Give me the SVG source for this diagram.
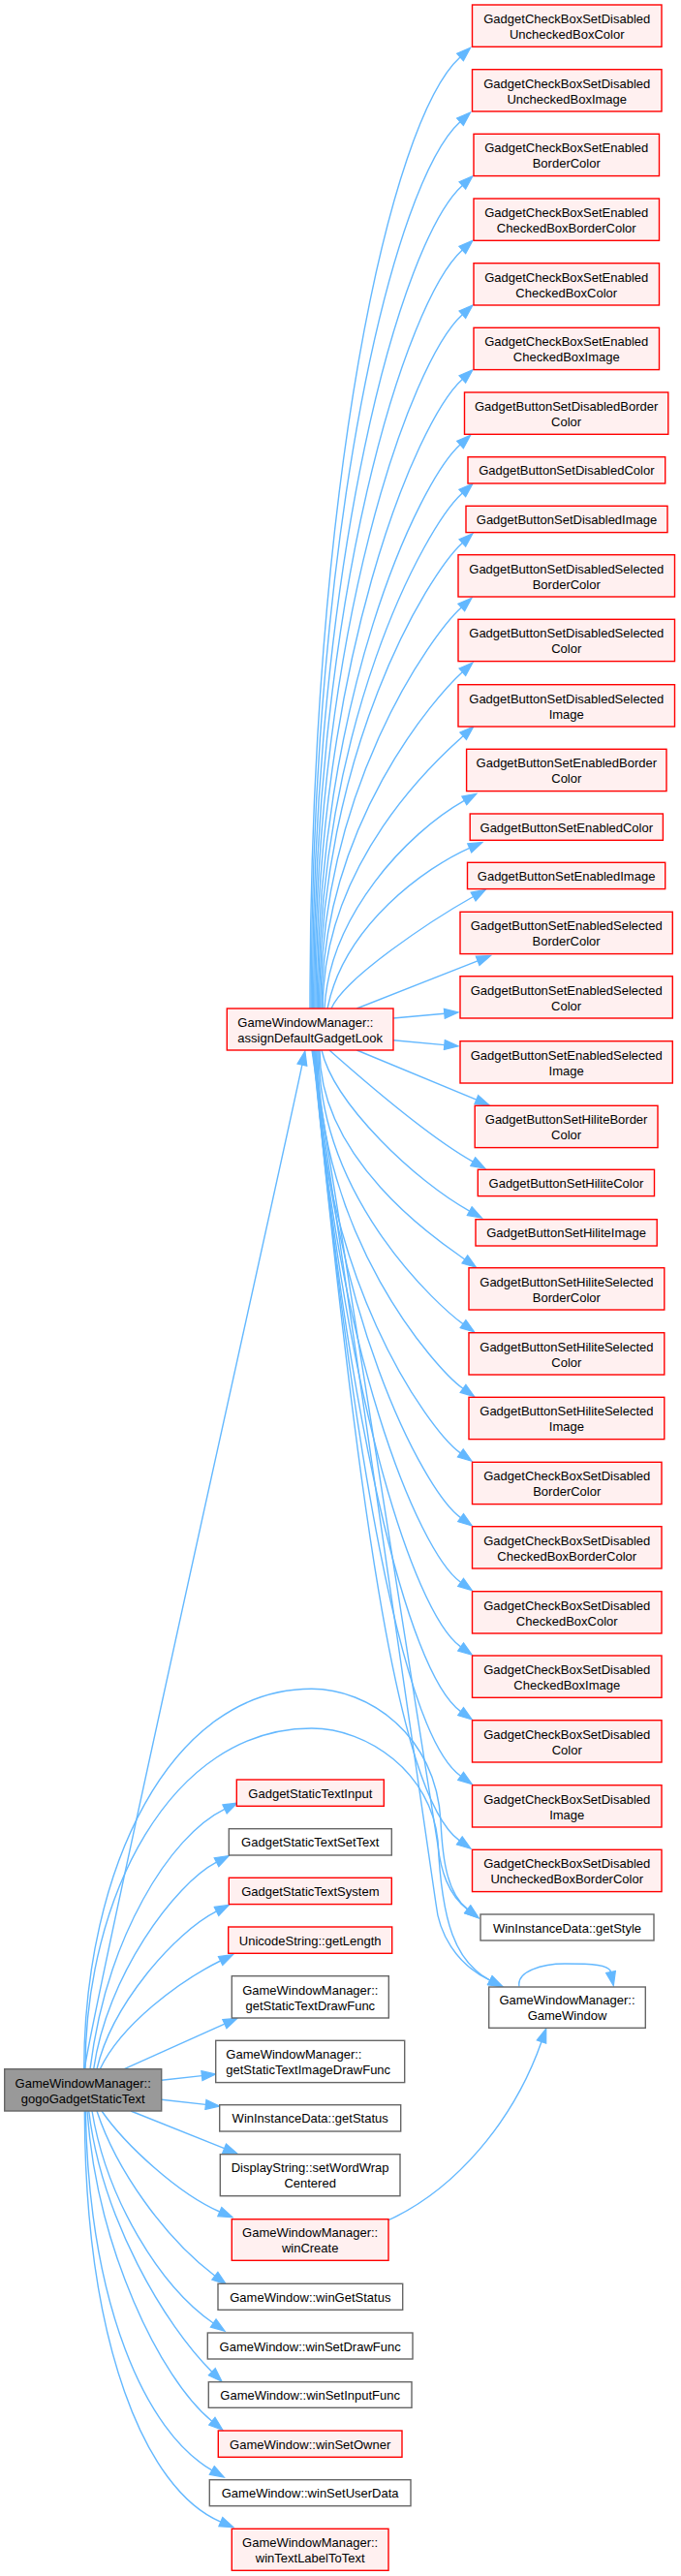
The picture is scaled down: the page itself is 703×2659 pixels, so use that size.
<svg xmlns="http://www.w3.org/2000/svg" width="703" height="2659" viewBox="0 0 703 2659">
<style>
text{font-family:"Liberation Sans",Arial,Helvetica,sans-serif;font-size:13px;fill:#000;text-anchor:middle}
text.l{text-anchor:start}
.r{fill:#fff0f0;stroke:#ff0000;stroke-width:1.4}
.w{fill:#fff;stroke:#666;stroke-width:1.4}
.g{fill:#999;stroke:#666;stroke-width:1.4}
#edges path{fill:none;stroke:#63b8ff;stroke-width:1.4;marker-end:url(#ah)}
</style>
<defs>
<marker id="ah" markerUnits="userSpaceOnUse" viewBox="-1 -6 17 12" refX="0" refY="0" markerWidth="17" markerHeight="12" orient="auto">
<path d="M0,-5 L14.4,0 L0,5 Z" fill="#63b8ff" stroke="#63b8ff" stroke-width="1.2"/>
</marker>
</defs>
<rect width="703" height="2659" fill="#fff"/>
<g id="edges">
<path d="M320,1041 C320,501 402.5,124.7 475,59"/>
<path d="M321.2,1041 C321.2,537.6 407.3,187 475,125.7"/>
<path d="M322.4,1041 C322.4,573.7 414.4,248.4 477.3,191.4"/>
<path d="M323.6,1041 C323.6,610.3 419.4,310.5 477.3,258"/>
<path d="M324.8,1041 C324.8,647 424.3,372.7 477.3,324.7"/>
<path d="M326,1041 C326,683.7 429.2,434.9 477.3,391.4"/>
<path d="M327.2,1041 C327.2,721 431.9,498 475,459"/>
<path d="M328.4,1041 C328.4,748.4 437.9,544.6 477.3,509"/>
<path d="M329.6,1041 C329.6,776.7 441.8,592.6 477.3,560.4"/>
<path d="M330.8,1041 C330.8,813.3 445.7,654.7 476.3,627"/>
<path d="M332,1041 C332,850 451.6,716.9 477.3,693.7"/>
<path d="M333.2,1041 C333.2,886.3 457.3,778.5 478.1,759.7"/>
<path d="M335,1041 C340,945 420,860 479.3,826.4"/>
<path d="M338,1041 C355,955 440,895 484.7,875.3"/>
<path d="M342,1041 C355,1010 445,950 488.6,925.5"/>
<path d="M368.3,1041 L493.1,991.8"/>
<path d="M406,1051 L458.8,1046.3"/>
<path d="M406,1073.7 L458.8,1078.6"/>
<path d="M368.3,1084 L491.8,1135.2"/>
<path d="M340,1084 C375,1115 445,1175 488.2,1199.1"/>
<path d="M332,1084 C345,1140 430,1220 484.7,1250.1"/>
<path d="M330,1084 C330,1202.7 462.3,1287.4 479.8,1299.9"/>
<path d="M329,1084 C329,1239.4 455.1,1350.2 478,1366.6"/>
<path d="M328,1084 C328,1276.1 449.7,1413.1 478,1433.3"/>
<path d="M327,1084 C327,1312.7 441.6,1475.8 475.3,1499.9"/>
<path d="M326,1084 C338.8,1349.4 436.5,1538.6 475.6,1566.6"/>
<path d="M325,1084 C344.4,1386.1 431.1,1601.5 475.6,1633.3"/>
<path d="M324.5,1084 C350.4,1422.7 425.7,1664.2 475.6,1699.9"/>
<path d="M324,1084 C356.5,1459.4 420.3,1727 475.6,1766.6"/>
<path d="M323.5,1084 C362.7,1496.1 414.9,1789.9 475.6,1833.3"/>
<path d="M323,1084 C368.4,1532.7 408.2,1852.6 474.3,1899.9"/>
<path d="M322.5,1084 L452,1905 C455,1930 462,1955 482.7,1970.9"/>
<path d="M322,1084 L450,1965 C453,1995 470,2027 505.8,2044.2"/>
<path d="M86.7,2135.7 C87,1930 175,1743.3 321.7,1743.3 C380,1743.3 450,1790 455,1880 C457,1925 463,1955 482.7,1970.9"/>
<path d="M88,2135.7 C88,1960 175,1784 321.7,1784 C380,1784 445,1830 452,1900 C456,1985 470,2025 505.8,2044.2"/>
<path d="M87.3,2135.7 C100,2050 280,1250 311.9,1099.1"/>
<path d="M93,2135.7 C110,2000 175,1895 232,1867.4"/>
<path d="M96.7,2135.7 C110,2040 180,1945 223.5,1922.2"/>
<path d="M100,2135.7 C115,2070 180,1995 223.5,1972.9"/>
<path d="M103.3,2135.7 C125,2090 185,2045 227.6,2024"/>
<path d="M128.3,2135.7 L231.9,2089.2"/>
<path d="M166.7,2147.3 L208.4,2142.6"/>
<path d="M166.7,2167.3 L212.4,2172.4"/>
<path d="M135,2179 L231.6,2217.7"/>
<path d="M105,2179 C130,2215 185,2265 226.8,2283"/>
<path d="M100,2179 C120,2240 170,2310 221.9,2349.2"/>
<path d="M95,2179 C110,2270 165,2360 220.2,2398"/>
<path d="M91.7,2179 C105,2290 170,2400 218.8,2448.2"/>
<path d="M90,2179 C100,2320 165,2455 218.8,2499.2"/>
<path d="M88.3,2179 C92,2380 150,2510 218.8,2549.9"/>
<path d="M87.3,2179 C88,2420 150,2570 227.8,2603.1"/>
<path d="M401,2291.7 C470,2260 530,2190 559,2107.5"/>
<path d="M536,2050.5 C533,2035 560,2027 583,2027 C612,2027 629,2028 630.5,2035.5"/>
</g>
<g id="n1"><rect class="r" x="487.5" y="5" width="195.5" height="43.3"/><text x="585.25" y="23.85">GadgetCheckBoxSetDisabled</text><text x="585.25" y="39.85">UncheckedBoxColor</text></g>
<g id="n2"><rect class="r" x="487.5" y="71.7" width="195.5" height="43.3"/><text x="585.25" y="90.55">GadgetCheckBoxSetDisabled</text><text x="585.25" y="106.55">UncheckedBoxImage</text></g>
<g id="n3"><rect class="r" x="489" y="138.3" width="191.5" height="43.3"/><text x="584.75" y="157.15">GadgetCheckBoxSetEnabled</text><text x="584.75" y="173.15">BorderColor</text></g>
<g id="n4"><rect class="r" x="489" y="205" width="191.5" height="43.3"/><text x="584.75" y="223.85">GadgetCheckBoxSetEnabled</text><text x="584.75" y="239.85">CheckedBoxBorderColor</text></g>
<g id="n5"><rect class="r" x="489" y="271.7" width="191.5" height="43.3"/><text x="584.75" y="290.55">GadgetCheckBoxSetEnabled</text><text x="584.75" y="306.55">CheckedBoxColor</text></g>
<g id="n6"><rect class="r" x="489" y="338.3" width="191.5" height="43.3"/><text x="584.75" y="357.15">GadgetCheckBoxSetEnabled</text><text x="584.75" y="373.15">CheckedBoxImage</text></g>
<g id="n7"><rect class="r" x="479.5" y="405" width="210.3" height="43.3"/><text x="584.65" y="423.85">GadgetButtonSetDisabledBorder</text><text x="584.65" y="439.85">Color</text></g>
<g id="n8"><rect class="r" x="483" y="471.7" width="203.7" height="27.3"/><text x="584.85" y="490.35">GadgetButtonSetDisabledColor</text></g>
<g id="n9"><rect class="r" x="481" y="522.3" width="208" height="27.3"/><text x="585" y="540.95">GadgetButtonSetDisabledImage</text></g>
<g id="n10"><rect class="r" x="473" y="572.7" width="223.5" height="43.3"/><text x="584.75" y="591.55">GadgetButtonSetDisabledSelected</text><text x="584.75" y="607.55">BorderColor</text></g>
<g id="n11"><rect class="r" x="473" y="639.3" width="223.5" height="43.3"/><text x="584.75" y="658.15">GadgetButtonSetDisabledSelected</text><text x="584.75" y="674.15">Color</text></g>
<g id="n12"><rect class="r" x="473" y="706.7" width="223.5" height="43.3"/><text x="584.75" y="725.55">GadgetButtonSetDisabledSelected</text><text x="584.75" y="741.55">Image</text></g>
<g id="n13"><rect class="r" x="481.6" y="773.3" width="206.4" height="43.3"/><text x="584.8" y="792.15">GadgetButtonSetEnabledBorder</text><text x="584.8" y="808.15">Color</text></g>
<g id="n14"><rect class="r" x="485.2" y="840" width="199.2" height="27.3"/><text x="584.8" y="858.65">GadgetButtonSetEnabledColor</text></g>
<g id="n15"><rect class="r" x="482.5" y="890.3" width="204.2" height="27.3"/><text x="584.6" y="908.95">GadgetButtonSetEnabledImage</text></g>
<g id="n16"><rect class="r" x="475" y="941.3" width="219.3" height="43.3"/><text x="584.65" y="960.15">GadgetButtonSetEnabledSelected</text><text x="584.65" y="976.15">BorderColor</text></g>
<g id="n17"><rect class="r" x="475" y="1007.7" width="219.3" height="43.3"/><text x="584.65" y="1026.55">GadgetButtonSetEnabledSelected</text><text x="584.65" y="1042.55">Color</text></g>
<g id="n18"><rect class="r" x="475" y="1074.7" width="219.3" height="43.3"/><text x="584.65" y="1093.55">GadgetButtonSetEnabledSelected</text><text x="584.65" y="1109.55">Image</text></g>
<g id="n19"><rect class="r" x="490.2" y="1141.3" width="188.8" height="43.3"/><text x="584.6" y="1160.15">GadgetButtonSetHiliteBorder</text><text x="584.6" y="1176.15">Color</text></g>
<g id="n20"><rect class="r" x="493.3" y="1207.3" width="182.2" height="27.3"/><text x="584.4" y="1225.95">GadgetButtonSetHiliteColor</text></g>
<g id="n21"><rect class="r" x="491" y="1258.7" width="187.2" height="27.3"/><text x="584.6" y="1277.35">GadgetButtonSetHiliteImage</text></g>
<g id="n22"><rect class="r" x="484" y="1308.7" width="201.8" height="43.3"/><text x="584.9" y="1327.55">GadgetButtonSetHiliteSelected</text><text x="584.9" y="1343.55">BorderColor</text></g>
<g id="n23"><rect class="r" x="484" y="1375.7" width="201.8" height="43.3"/><text x="584.9" y="1394.55">GadgetButtonSetHiliteSelected</text><text x="584.9" y="1410.55">Color</text></g>
<g id="n24"><rect class="r" x="484" y="1442.3" width="201.8" height="43.3"/><text x="584.9" y="1461.15">GadgetButtonSetHiliteSelected</text><text x="584.9" y="1477.15">Image</text></g>
<g id="n25"><rect class="r" x="487.5" y="1509.3" width="195.5" height="43.3"/><text x="585.25" y="1528.15">GadgetCheckBoxSetDisabled</text><text x="585.25" y="1544.15">BorderColor</text></g>
<g id="n26"><rect class="r" x="487.5" y="1575.7" width="195.5" height="43.3"/><text x="585.25" y="1594.55">GadgetCheckBoxSetDisabled</text><text x="585.25" y="1610.55">CheckedBoxBorderColor</text></g>
<g id="n27"><rect class="r" x="487.5" y="1642.7" width="195.5" height="43.3"/><text x="585.25" y="1661.55">GadgetCheckBoxSetDisabled</text><text x="585.25" y="1677.55">CheckedBoxColor</text></g>
<g id="n28"><rect class="r" x="487.5" y="1709" width="195.5" height="43.3"/><text x="585.25" y="1727.85">GadgetCheckBoxSetDisabled</text><text x="585.25" y="1743.85">CheckedBoxImage</text></g>
<g id="n29"><rect class="r" x="487.5" y="1775.7" width="195.5" height="43.3"/><text x="585.25" y="1794.55">GadgetCheckBoxSetDisabled</text><text x="585.25" y="1810.55">Color</text></g>
<g id="n30"><rect class="r" x="487.5" y="1842.7" width="195.5" height="43.3"/><text x="585.25" y="1861.55">GadgetCheckBoxSetDisabled</text><text x="585.25" y="1877.55">Image</text></g>
<g id="n31"><rect class="r" x="487.5" y="1909.3" width="195.5" height="43.3"/><text x="585.25" y="1928.15">GadgetCheckBoxSetDisabled</text><text x="585.25" y="1944.15">UncheckedBoxBorderColor</text></g>
<g id="n32"><rect class="w" x="496" y="1976" width="179" height="27"/><text x="585.5" y="1994.5">WinInstanceData::getStyle</text></g>
<g id="n33"><rect class="w" x="504.7" y="2051" width="161.6" height="42.3"/><text x="585.5" y="2069.35">GameWindowManager::</text><text x="585.5" y="2085.35">GameWindow</text></g>
<g id="assign"><rect class="r" x="234.3" y="1041" width="171.7" height="43"/><text class="l" x="245.3" y="1059.7">GameWindowManager::</text><text class="l" x="245.3" y="1075.7">assignDefaultGadgetLook</text></g>
<g id="input"><rect class="r" x="244.3" y="1837" width="152" height="27.3"/><text x="320.3" y="1855.65">GadgetStaticTextInput</text></g>
<g id="settext"><rect class="w" x="236.3" y="1887.7" width="168" height="27.3"/><text x="320.3" y="1906.35">GadgetStaticTextSetText</text></g>
<g id="system"><rect class="r" x="236.3" y="1938.3" width="168" height="27.3"/><text x="320.3" y="1956.95">GadgetStaticTextSystem</text></g>
<g id="getlength"><rect class="r" x="235.7" y="1989" width="169" height="27.3"/><text x="320.2" y="2007.65">UnicodeString::getLength</text></g>
<g id="drawfunc"><rect class="w" x="239.3" y="2039.7" width="162" height="43.3"/><text x="320.3" y="2058.55">GameWindowManager::</text><text x="320.3" y="2074.55">getStaticTextDrawFunc</text></g>
<g id="imgdrawfunc"><rect class="w" x="222.7" y="2106.3" width="195" height="43.3"/><text class="l" x="233.3" y="2125.15">GameWindowManager::</text><text class="l" x="233.3" y="2141.15">getStaticTextImageDrawFunc</text></g>
<g id="getstatus"><rect class="w" x="226.7" y="2172.7" width="187" height="27.3"/><text x="320.2" y="2191.35">WinInstanceData::getStatus</text></g>
<g id="wordwrap"><rect class="w" x="227.3" y="2223.7" width="185.7" height="43"/><text x="320.15" y="2242.4">DisplayString::setWordWrap</text><text x="320.15" y="2258.4">Centered</text></g>
<g id="wincreate"><rect class="r" x="239.3" y="2290.7" width="161.7" height="42.6"/><text x="320.15" y="2309.2">GameWindowManager::</text><text x="320.15" y="2325.2">winCreate</text></g>
<g id="wingetstatus"><rect class="w" x="225" y="2357.3" width="190.7" height="27"/><text x="320.35" y="2375.8">GameWindow::winGetStatus</text></g>
<g id="winsetdrawfunc"><rect class="w" x="214.3" y="2408" width="211.7" height="27"/><text x="320.15" y="2426.5">GameWindow::winSetDrawFunc</text></g>
<g id="winsetinputfunc"><rect class="w" x="215.3" y="2458.7" width="209.7" height="26.6"/><text x="320.15" y="2477">GameWindow::winSetInputFunc</text></g>
<g id="winsetowner"><rect class="r" x="225.3" y="2509" width="189.7" height="27.3"/><text x="320.15" y="2527.65">GameWindow::winSetOwner</text></g>
<g id="winsetuserdata"><rect class="w" x="216.3" y="2559.7" width="207.7" height="27"/><text x="320.15" y="2578.2">GameWindow::winSetUserData</text></g>
<g id="wintextlabel"><rect class="r" x="239.3" y="2610.3" width="161.7" height="43"/><text x="320.15" y="2629">GameWindowManager::</text><text x="320.15" y="2645">winTextLabelToText</text></g>
<g id="gogo"><rect class="g" x="4.7" y="2135.7" width="162" height="43.3"/><text x="85.7" y="2154.55">GameWindowManager::</text><text x="85.7" y="2170.55">gogoGadgetStaticText</text></g>
</svg>
